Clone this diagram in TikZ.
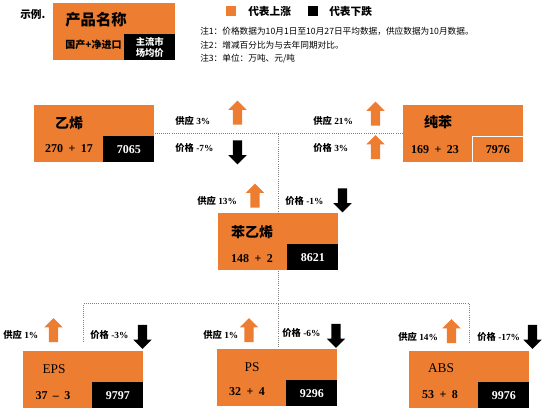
\documentclass[tikz,border=0pt]{standalone}
\usepackage{fontspec}
\setmainfont{Liberation Serif}
\newfontfamily\cjk{Noto Sans CJK SC}
\usetikzlibrary{shapes.arrows}
\definecolor{rise}{RGB}{237,125,49}
\newcommand\sumof[3]{#1\hspace{0.45em}#2\hspace{0.45em}#3}

\tikzset{
  prod/.style={fill=rise, minimum width=90pt, minimum height=42.75pt, inner sep=0pt, anchor=north west},
  price/.style={fill=black, text=white, minimum width=38.25pt, minimum height=19.5pt, inner sep=0pt, anchor=south east, font=\bfseries\fontsize{9}{10}\selectfont},
  pname/.style={inner sep=0pt, font=\bfseries\fontsize{10.5}{12}\selectfont},
  pval/.style={inner sep=0pt, font=\bfseries\fontsize{9}{10}\selectfont},
  chg/.style={anchor=west, inner sep=0pt, font=\bfseries\fontsize{7}{8}\selectfont},
  note/.style={anchor=west, inner sep=0pt, font=\cjk\fontsize{6.5}{8}\selectfont},
  link/.style={draw=gray, densely dotted, line width=0.6pt},
  arr/.style={single arrow, minimum height=18pt, minimum width=13.5pt, single arrow head extend=3.5pt, inner sep=3.2pt},
  upa/.style={arr, fill=rise, rotate=90},
  downa/.style={arr, fill=black, rotate=-90},
}

\begin{document}
\begin{tikzpicture}[x=0.75pt, y=-0.75pt]
  \useasboundingbox (0,0) rectangle (550,416);

  % sample box and legend
  \node[anchor=west, inner sep=0pt, font=\cjk\bfseries\fontsize{8}{9}\selectfont] (demo-t) at (20,14) {示例.};
  \node[prod, minimum width=91.5pt] (demo) at (53,3) {};
  \node[price] (demo-p) at (demo.south east) {};
  \node[align=center, text=white, inner sep=0pt, font=\cjk\bfseries\fontsize{7}{8.5}\selectfont] (demo-pt) at (demo-p) {主流市\\场均价};
  \node[pname, font=\cjk\bfseries\fontsize{11.5}{13}\selectfont] (demo-n) at ([shift={(43,17)}]demo.north west) {产品名称};
  \node[pval, font=\cjk\bfseries\fontsize{7.5}{9}\selectfont] (demo-v) at ([shift={(40.5,42)}]demo.north west) {国产+净进口};

  \node[fill=rise, minimum size=7.5pt, inner sep=0pt] (lg-up) at (231,11) {};
  \node[anchor=west, inner sep=0pt, font=\cjk\bfseries\fontsize{8}{9}\selectfont] (lg-up-t) at (248,11) {代表上涨};
  \node[fill=black, minimum size=7.5pt, inner sep=0pt] (lg-dn) at (313,11) {};
  \node[anchor=west, inner sep=0pt, font=\cjk\bfseries\fontsize{8}{9}\selectfont] (lg-dn-t) at (329,11) {代表下跌};

  \node[note] (note1) at (200,31) {注1：价格数据为10月1日至10月27日平均数据，供应数据为10月数据。};
  \node[note] (note2) at (200,45) {注2：增减百分比为与去年同期对比。};
  \node[note] (note3) at (200,59) {注3：单位：万吨、元/吨};

  % products
  \node[prod] (eth) at (34,105) {};
  \node[price] (eth-p) at (eth.south east) {7065};
  \node[pname] (eth-n) at ([shift={(35,18)}]eth.north west) {\cjk 乙烯};
  \node[pval] (eth-v) at ([shift={(35,44)}]eth.north west) {\sumof{270}{+}{17}};

  \node[prod] (ben) at (403,105) {};
  \node[price, fill=rise, draw=white, text=black] (ben-p) at (ben.south east) {7976};
  \node[pname] (ben-n) at ([shift={(35,17)}]ben.north west) {\cjk 纯苯};
  \node[pval] (ben-v) at ([shift={(32,45)}]ben.north west) {\sumof{169}{+}{23}};

  \node[prod] (sty) at (218,213) {};
  \node[price] (sty-p) at (sty.south east) {8621};
  \node[pname] (sty-n) at ([shift={(34,19)}]sty.north west) {\cjk 苯乙烯};
  \node[pval] (sty-v) at ([shift={(34,46)}]sty.north west) {\sumof{148}{+}{2}};

  \node[prod] (eps) at (23,351) {};
  \node[price] (eps-p) at (eps.south east) {9797};
  \node[pname, font=\fontsize{10}{12}\selectfont] (eps-n) at ([shift={(31,18)}]eps.north west) {EPS};
  \node[pval] (eps-v) at ([shift={(30,45)}]eps.north west) {\sumof{37}{--}{3}};

  \node[prod] (ps) at (217,349) {};
  \node[price] (ps-p) at (ps.south east) {9296};
  \node[pname, font=\fontsize{10}{12}\selectfont] (ps-n) at ([shift={(35,18)}]ps.north west) {PS};
  \node[pval] (ps-v) at ([shift={(30,43)}]ps.north west) {\sumof{32}{+}{4}};

  \node[prod] (abs) at (409,351) {};
  \node[price] (abs-p) at (abs.south east) {9976};
  \node[pname, font=\fontsize{10}{12}\selectfont] (abs-n) at ([shift={(32,17)}]abs.north west) {ABS};
  \node[pval] (abs-v) at ([shift={(31,44)}]abs.north west) {\sumof{53}{+}{8}};

  % dotted links
  \draw[link] (eth.east) -- (ben.west);
  \draw[link] (eth.east -| sty.north) -- (sty.north);
  \path (sty.south) ++(0,33) coordinate (bus);
  \draw[link] (sty.south) -- (bus);
  \draw[link, shorten <=7pt, shorten >=5pt] (eps.north) |- (bus) -| (abs.north);
  \draw[link, shorten >=1pt] (bus) -- (bus |- ps.north);

  % supply / price changes
  \node[upa] (eth-s) at (237.5,115) {};
  \node[chg] (eth-st) at (175,121) {{\cjk 供应}~3\%};
  \node[downa] (eth-c) at (237.5,150) {};
  \node[chg] (eth-ct) at (175,148) {{\cjk 价格}~-7\%};

  \node[upa] (ben-s) at (375.5,116) {};
  \node[chg] (ben-st) at (313,121) {{\cjk 供应}~21\%};
  \node[upa] (ben-c) at (375.5,149.5) {};
  \node[chg] (ben-ct) at (313,148) {{\cjk 价格}~3\%};

  \node[upa] (sty-s) at (255,198) {};
  \node[chg] (sty-st) at (197,201) {{\cjk 供应}~13\%};
  \node[downa] (sty-c) at (342.5,198) {};
  \node[chg] (sty-ct) at (285,201) {{\cjk 价格}~-1\%};

  \node[upa] (eps-s) at (53.5,332.5) {};
  \node[chg] (eps-st) at (3,335) {{\cjk 供应}~1\%};
  \node[downa] (eps-c) at (142.5,334.5) {};
  \node[chg] (eps-ct) at (90,335) {{\cjk 价格}~-3\%};

  \node[upa] (ps-s) at (249,332.5) {};
  \node[chg] (ps-st) at (203,335) {{\cjk 供应}~1\%};
  \node[downa] (ps-c) at (336,333.5) {};
  \node[chg] (ps-ct) at (282,333) {{\cjk 价格}~-6\%};

  \node[upa] (abs-s) at (451.5,333.5) {};
  \node[chg] (abs-st) at (398,337) {{\cjk 供应}~14\%};
  \node[downa] (abs-c) at (532.5,334.5) {};
  \node[chg] (abs-ct) at (477,337) {{\cjk 价格}~-17\%};
\end{tikzpicture}
\end{document}
